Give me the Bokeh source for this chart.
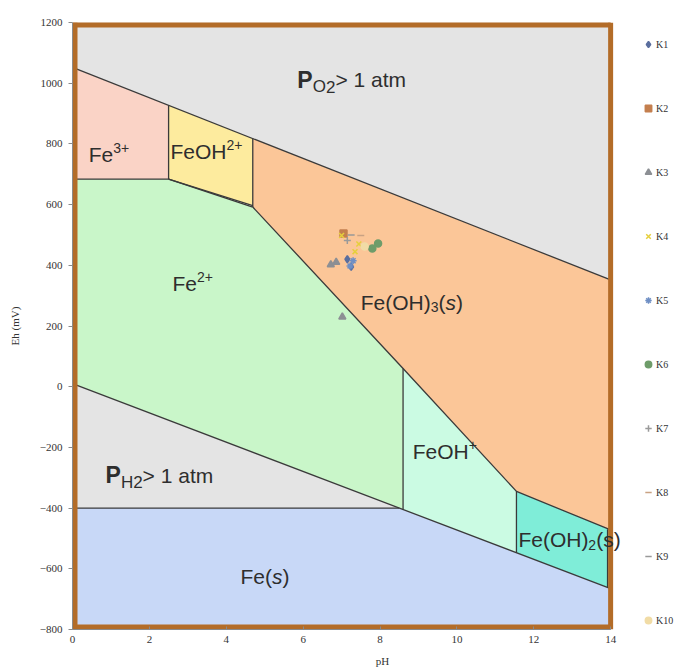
from bokeh.plotting import figure
from bokeh.models import Label, Legend, LegendItem, FixedTicker, Range1d
from bokeh.embed import file_html
from bokeh.resources import INLINE

# ---------------- data ----------------
x_ticks = [0, 2, 4, 6, 8, 10, 12, 14]
y_ticks = [-800, -600, -400, -200, 0, 200, 400, 600, 800, 1000, 1200]

# boundary lines (pH, Eh mV)
o2_ph = [0, 14]
o2_eh = [1052, 352]
h2_ph = [0, 14]
h2_eh = [10, -665]
fe_ph = [0, 2.5, 4.69, 8.6, 11.55, 14]
fe_eh = [684, 684, 592, 60, -345, -472]
fe_s_eh = -400
fe_s_ph_end = 8.5

def o2(ph):
    return o2_eh[0] + (o2_eh[1] - o2_eh[0]) * ph / 14.0

def h2(ph):
    return h2_eh[0] + (h2_eh[1] - h2_eh[0]) * ph / 14.0

region_names = ["PO2", "Fe3+", "FeOH2+", "Fe2+", "Fe(OH)3", "FeOH+", "Fe(OH)2", "PH2", "Fe(s)"]
region_xs = [
    [0, 14, 14, 0],
    [0, 2.5, 2.5, 0],
    [2.5, 4.69, 4.69, 2.5],
    [0, 2.5, 4.69, 8.6, 8.6, 0],
    [4.69, 14, 14, 11.55, 8.6, 4.69],
    [8.6, 11.55, 11.55, 8.6],
    [11.55, 14, 14, 11.55],
    [0, fe_s_ph_end, 0],
    [0, fe_s_ph_end, 14, 14, 0],
]
region_ys = [
    [1200, 1200, o2(14), o2(0)],
    [o2(0), o2(2.5), 684, 684],
    [o2(2.5), o2(4.69), 596, 684],
    [684, 684, 592, 60, h2(8.6), h2(0)],
    [o2(4.69), o2(14), -472, -345, 60, 592],
    [60, -345, h2(11.55), h2(8.6)],
    [-345, -472, h2(14), h2(11.55)],
    [h2(0), fe_s_eh, fe_s_eh],
    [fe_s_eh, fe_s_eh, h2(14), -800, -800],
]
region_colors = ["#E4E4E4", "#FAD3C6", "#FDEB9E", "#C9F6C9", "#FBC698",
                 "#CBFBE3", "#7FEDD8", "#E4E4E4", "#C8D8F7"]

# sample points
series = ["K1", "K2", "K3", "K4", "K5", "K6", "K7", "K8", "K9", "K10"]
pts_ph = [
    [7.25, 7.15],
    [7.05],
    [6.72, 6.86, 7.02],
    [7.45, 7.35, 7.0],
    [7.22, 7.3],
    [7.8, 7.95],
    [7.15],
    [7.5],
    [7.25],
    [7.6],
]
pts_eh = [
    [395, 420],
    [505],
    [402, 410, 230],
    [470, 445, 498],
    [398, 415],
    [455, 472],
    [482],
    [498],
    [500],
    [462],
]
markers = ["diamond", "square", "triangle", "x", "asterisk", "circle", "cross", "dash", "dash", "circle"]
mcolors = ["#5A6E9E", "#C47F4E", "#8C8F94", "#E6CF3C", "#6F8FC4", "#6E9C6A",
           "#9A9A9A", "#C9A283", "#999999", "#F1DCA6"]

# ---------------- figure ----------------
# frame spans to the right edge so labels / legend beyond pH 14 are not clipped
p = figure(width=692, height=672, x_range=Range1d(0, 16.13), y_range=Range1d(-800, 1200),
           output_backend="svg", toolbar_location=None,
           min_border_left=72, min_border_right=0, min_border_top=22, min_border_bottom=43)
p.grid.visible = False
p.background_fill_color = "white"
p.outline_line_color = None

p.patches(region_xs, region_ys, fill_color=region_colors, line_color=None)

lc = "#3A3A3A"
lw = 1.3
p.line(o2_ph, o2_eh, line_color=lc, line_width=lw)
p.line(h2_ph, h2_eh, line_color=lc, line_width=lw)
p.line(fe_ph[2:], fe_eh[2:], line_color=lc, line_width=lw)
p.line(fe_ph[:3], fe_eh[:3], line_color=lc, line_width=lw)
p.line([2.5, 4.69], [684, 597], line_color=lc, line_width=lw)
p.line([0, fe_s_ph_end], [fe_s_eh, fe_s_eh], line_color=lc, line_width=lw)
p.line([2.5, 2.5], [684, o2(2.5)], line_color=lc, line_width=lw)
p.line([4.69, 4.69], [592, o2(4.69)], line_color=lc, line_width=lw)
p.line([8.6, 8.6], [60, h2(8.6)], line_color=lc, line_width=lw)
p.line([11.55, 11.55], [-345, h2(11.55)], line_color=lc, line_width=lw)
p.line([13.92, 13.92], [-470, h2(13.92)], line_color=lc, line_width=lw)

# brown plot-area border
fc = "#B36C28"
p.line([0, 0], [-800, 1200], line_color=fc, line_width=10)
p.line([0, 14], [1200, 1200], line_color=fc, line_width=10)
p.line([0, 14], [-800, -800], line_color=fc, line_width=10)
p.line([14, 14], [-800, 1200], line_color=fc, line_width=5)

renderers = []
for name, xs, ys, m, c in zip(series, pts_ph, pts_eh, markers, mcolors):
    r = p.scatter(xs, ys, marker=m, size=7, fill_color=c, line_color=c, line_width=1.5)
    renderers.append(r)

# axes
for ax in (p.xaxis[0], p.yaxis[0]):
    ax.axis_line_color = "#8A8A8A"
    ax.major_tick_line_color = "#8A8A8A"
    ax.minor_tick_line_color = None
    ax.major_label_text_font = "Liberation Serif"
    ax.major_label_text_font_size = "11px"
    ax.major_label_text_color = "#333333"
    ax.axis_label_text_font = "Liberation Serif"
    ax.axis_label_text_font_size = "11px"
    ax.axis_label_text_font_style = "normal"
    ax.axis_label_text_color = "#333333"
p.xaxis.ticker = FixedTicker(ticks=x_ticks)
p.yaxis.ticker = FixedTicker(ticks=y_ticks)
p.xaxis.bounds = (0, 14)
p.xaxis.axis_label = "pH"
p.yaxis.axis_label = "Eh (mV)"
p.xaxis.major_tick_in = 3
p.xaxis.major_tick_out = 0
p.yaxis.major_tick_in = 0
p.yaxis.major_tick_out = 4
p.yaxis.major_label_standoff = 6
p.yaxis.axis_label_standoff = 16
p.xaxis.major_label_standoff = 6
p.xaxis.axis_label_standoff = 9

# legend
items = [LegendItem(label=n, renderers=[r]) for n, r in zip(series, renderers)]
legend = Legend(items=items, location=(568, -1), orientation="vertical",
                label_text_font="Liberation Serif", label_text_font_size="10px",
                label_text_color="#333333", glyph_width=16, glyph_height=16,
                label_height=20, spacing=44, padding=2, margin=0,
                border_line_color=None, background_fill_alpha=0, label_standoff=0)
p.add_layout(legend)

# region labels
W = {'F': .611, 'e': .556, 'O': .778, 'H': .722, '(': .333, ')': .333, 's': .5,
     'P': .667, ' ': .278, '>': .584, '1': .556, 'a': .556, 't': .278, 'm': .833,
     '2': .556, '3': .556, '+': .584}

def add_text(x, y, pieces):
    off = 0.0
    for txt, size, dy, style in pieces:
        p.add_layout(Label(x=x, y=y, x_offset=off, y_offset=dy, text=txt,
                           text_font="Liberation Sans", text_font_size=f"{size}px",
                           text_font_style=style, text_color="#2E2E2E",
                           text_baseline="alphabetic", text_align="left"))
        off += sum(W.get(ch, 0.55) for ch in txt) * size

N = "normal"
add_text(5.85, 1011, [("P", 23, 0, "bold"), ("O", 17, -7, N), ("2", 17, -7, N), (" > 1 atm", 21, 0, N)])
add_text(0.42, 764, [("Fe", 21, 0, N), ("3+", 14, 7, N)])
add_text(2.55, 774, [("FeOH", 21, 0, N), ("2+", 14, 7, N)])
add_text(2.6, 339, [("Fe", 21, 0, N), ("2+", 14, 7, N)])
add_text(7.5, 279, [("Fe(OH)", 21, 0, N), ("3", 14, -5, N), ("(", 21, 0, N), ("s", 21, 0, "italic"), (")", 21, 0, N)])
add_text(8.85, -215, [("FeOH", 21, 0, N), ("+", 14, 7, N)])
add_text(0.86, -291, [("P", 23, 0, "bold"), ("H", 17, -7, N), ("2", 17, -7, N), ("> 1 atm", 21, 0, N)])
add_text(4.37, -627, [("Fe(", 21, 0, N), ("s", 21, 0, "italic"), (")", 21, 0, N)])
add_text(11.6, -505, [("Fe(OH)", 21, 0, N), ("2", 14, -5, N), ("(s)", 21, 0, N)])

open("out.html", "w").write(file_html(p, INLINE))
